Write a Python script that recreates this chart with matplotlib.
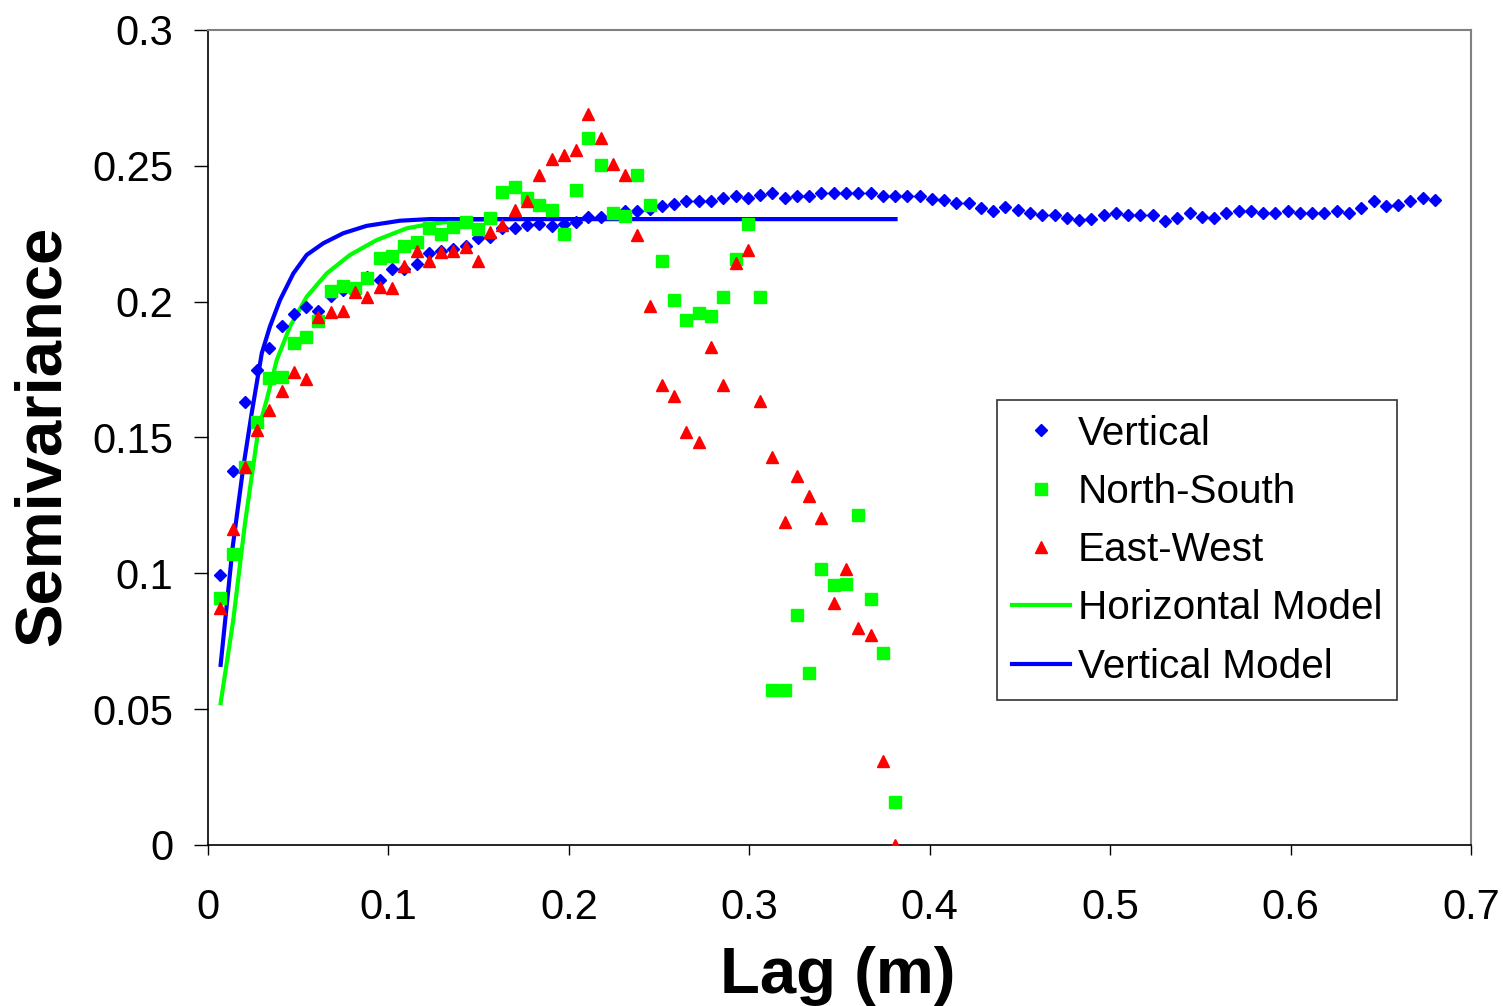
import matplotlib
matplotlib.use("Agg")
import matplotlib.pyplot as plt
from matplotlib.ticker import FormatStrFormatter, MultipleLocator

plt.rcParams['font.family'] = ['Liberation Sans', 'DejaVu Sans']

# Lag bins (m)
lag_vertical = [
    0.0068, 0.0136, 0.0204, 0.0272, 0.0340, 0.0408, 0.0476, 0.0544, 0.0612, 0.0680,
    0.0748, 0.0816, 0.0884, 0.0952, 0.1020, 0.1088, 0.1156, 0.1224, 0.1292, 0.1360,
    0.1428, 0.1496, 0.1564, 0.1632, 0.1700, 0.1768, 0.1836, 0.1904, 0.1972, 0.2040,
    0.2108, 0.2176, 0.2244, 0.2312, 0.2380, 0.2448, 0.2516, 0.2584, 0.2652, 0.2720,
    0.2788, 0.2856, 0.2924, 0.2992, 0.3060, 0.3128, 0.3196, 0.3264, 0.3332, 0.3400,
    0.3468, 0.3536, 0.3604, 0.3672, 0.3740, 0.3808, 0.3876, 0.3944, 0.4012, 0.4080,
    0.4148, 0.4216, 0.4284, 0.4352, 0.4420, 0.4488, 0.4556, 0.4624, 0.4692, 0.4760,
    0.4828, 0.4896, 0.4964, 0.5032, 0.5100, 0.5168, 0.5236, 0.5304, 0.5372, 0.5440,
    0.5508, 0.5576, 0.5644, 0.5712, 0.5780, 0.5848, 0.5916, 0.5984, 0.6052, 0.6120,
    0.6188, 0.6256, 0.6324, 0.6392, 0.6460, 0.6528, 0.6596, 0.6664, 0.6732, 0.6800,
]
lag_horizontal = lag_vertical[:56]

vertical = [
    0.0995, 0.1375, 0.1630, 0.1749, 0.1828, 0.1912, 0.1955, 0.1979, 0.1967, 0.2022,
    0.2043, 0.2051, 0.2089, 0.2081, 0.2120, 0.2121, 0.2139, 0.2178, 0.2188, 0.2194,
    0.2206, 0.2233, 0.2238, 0.2273, 0.2273, 0.2282, 0.2286, 0.2279, 0.2286, 0.2294,
    0.2310, 0.2310, 0.2322, 0.2335, 0.2332, 0.2341, 0.2353, 0.2359, 0.2369, 0.2369,
    0.2369, 0.2383, 0.2390, 0.2383, 0.2393, 0.2399, 0.2383, 0.2390, 0.2390, 0.2400,
    0.2400, 0.2400, 0.2400, 0.2400, 0.2390, 0.2390, 0.2390, 0.2390, 0.2378, 0.2375,
    0.2363, 0.2363, 0.2343, 0.2332, 0.2349, 0.2337, 0.2325, 0.2319, 0.2319, 0.2308,
    0.2301, 0.2306, 0.2319, 0.2325, 0.2319, 0.2319, 0.2319, 0.2298, 0.2308, 0.2325,
    0.2313, 0.2308, 0.2325, 0.2335, 0.2335, 0.2325, 0.2328, 0.2335, 0.2325, 0.2328,
    0.2328, 0.2335, 0.2325, 0.2344, 0.2369, 0.2353, 0.2355, 0.2369, 0.2380, 0.2374,
]

north_south = [
    0.0911, 0.1070, 0.1393, 0.1556, 0.1719, 0.1724, 0.1847, 0.1871, 0.1930, 0.2038,
    0.2059, 0.2050, 0.2087, 0.2159, 0.2169, 0.2206, 0.2221, 0.2273, 0.2249, 0.2276,
    0.2295, 0.2267, 0.2307, 0.2402, 0.2423, 0.2381, 0.2357, 0.2337, 0.2249, 0.2412,
    0.2604, 0.2504, 0.2325, 0.2316, 0.2467, 0.2355, 0.2148, 0.2007, 0.1931, 0.1957,
    0.1947, 0.2018, 0.2157, 0.2286, 0.2017, 0.0572, 0.0572, 0.0846, 0.0633, 0.1017,
    0.0956, 0.0962, 0.1213, 0.0904, 0.0708, 0.0157,
]

east_west = [
    0.0872, 0.1164, 0.1391, 0.1528, 0.1602, 0.1673, 0.1740, 0.1716, 0.1942, 0.1961,
    0.1964, 0.2034, 0.2016, 0.2053, 0.2049, 0.2130, 0.2188, 0.2151, 0.2181, 0.2188,
    0.2200, 0.2148, 0.2255, 0.2283, 0.2337, 0.2371, 0.2467, 0.2525, 0.2539, 0.2558,
    0.2690, 0.2604, 0.2508, 0.2467, 0.2245, 0.1985, 0.1695, 0.1654, 0.1519, 0.1483,
    0.1832, 0.1695, 0.2144, 0.2190, 0.1636, 0.1428, 0.1189, 0.1360, 0.1284, 0.1205,
    0.0892, 0.1017, 0.0797, 0.0772, 0.0310, 0.0000,
]

# Fitted model curves
horiz_model_lag = [0.0070, 0.0140, 0.0205, 0.0279, 0.0325, 0.0381, 0.0454, 0.0547,
                   0.0658, 0.0787, 0.0935, 0.1101, 0.1248, 0.1433, 0.1729, 0.3810]
horiz_model = [0.0522, 0.0828, 0.1184, 0.1528, 0.1638, 0.1785, 0.1908, 0.2018,
               0.2104, 0.2172, 0.2227, 0.2270, 0.2288, 0.2300, 0.2304, 0.2304]

vert_model_lag = [0.0070, 0.0137, 0.0196, 0.0242, 0.0265, 0.0298, 0.0343, 0.0399,
                  0.0473, 0.0547, 0.0639, 0.0750, 0.0879, 0.1064, 0.1230, 0.3810]
vert_model = [0.0663, 0.1098, 0.1393, 0.1589, 0.1680, 0.1810, 0.1908, 0.2006,
              0.2104, 0.2172, 0.2215, 0.2252, 0.2279, 0.2298, 0.2304, 0.2304]

fig = plt.figure(figsize=(15.03, 10.06), dpi=100)
ax = fig.add_axes([208 / 1503, 1 - 845 / 1006, (1471 - 208) / 1503, (845 - 30) / 1006])

# Lines first so the markers sit on top
ax.plot(horiz_model_lag, horiz_model, color='#00FF00', lw=3, label='Horizontal Model', zorder=2)
ax.plot(vert_model_lag, vert_model, color='#0000FF', lw=3, label='Vertical Model', zorder=2)

ax.plot(lag_vertical, vertical, ls='none', marker='D', ms=6.2, color='#0000FF',
        mec='#0000FF', label='Vertical', zorder=3)
ax.plot(lag_horizontal, north_south, ls='none', marker='s', ms=8, color='#00FF00',
        mec='#00FF00', label='North-South', zorder=4)
ax.plot(lag_horizontal, east_west, ls='none', marker='^', ms=9, color='#FF0000',
        mec='#FF0000', label='East-West', zorder=5)

ax.set_xlim(0, 0.7)
ax.set_ylim(0, 0.3)
ax.xaxis.set_major_locator(MultipleLocator(0.1))
ax.yaxis.set_major_locator(MultipleLocator(0.05))
ax.xaxis.set_major_formatter(FormatStrFormatter('%g'))
ax.yaxis.set_major_formatter(FormatStrFormatter('%g'))
ax.tick_params(axis='y', direction='out', length=10, width=1, pad=15, labelsize=30)
ax.tick_params(axis='x', direction='out', length=7, width=1, pad=24, labelsize=30)

for side in ('left', 'bottom'):
    ax.spines[side].set_color('black')
    ax.spines[side].set_linewidth(1.2)
for side in ('top', 'right'):
    ax.spines[side].set_color('#808080')
    ax.spines[side].set_linewidth(1.5)

fig.text(43 / 1503, 1 - 436 / 1006, 'Semivariance', rotation=90, ha='center', va='center',
         fontsize=47, fontweight='bold')
fig.text(838 / 1503, 1 - 993 / 1006, 'Lag (m)', ha='center', va='baseline',
         fontsize=47, fontweight='bold')

handles, labels = ax.get_legend_handles_labels()
order = [2, 3, 4, 0, 1]
leg = ax.legend([handles[i] for i in order], [labels[i] for i in order],
                loc='upper left', bbox_to_anchor=((997 - 208) / 1263, (845 - 400) / 815),
                borderaxespad=0, fontsize=29.2, frameon=True, fancybox=False,
                handlelength=1.45, handletextpad=0.18, labelspacing=0.5, borderpad=0.36)
leg.get_frame().set_edgecolor('black')
leg.get_frame().set_linewidth(1.2)

fig.savefig('out.png', dpi=100)
